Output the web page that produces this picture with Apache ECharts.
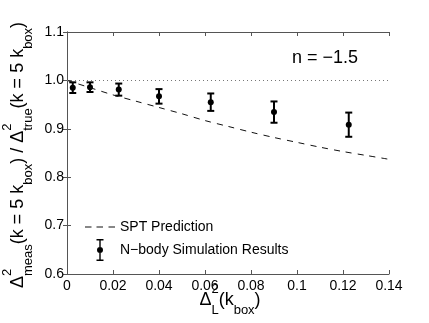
<!DOCTYPE html>
<html>
<head>
<meta charset="utf-8">
<script src="https://cdn.jsdelivr.net/npm/echarts@6/dist/echarts.min.js"></script>
<style>
html,body{margin:0;padding:0;background:#fff;}
#chart{width:429px;height:323px;}
</style>
</head>
<body>
<div id="chart"></div>
<script>
// ---- data ----
const sptX = [0, 0.01, 0.02, 0.03, 0.04, 0.05, 0.06, 0.07, 0.08, 0.09, 0.10, 0.11, 0.12, 0.13, 0.14];
const sptY = [1.000, 0.985, 0.970, 0.957, 0.944, 0.931, 0.917, 0.905, 0.893, 0.882, 0.872, 0.862, 0.853, 0.845, 0.837];
const simX = [0.0025, 0.01, 0.0225, 0.04, 0.0625, 0.09, 0.1225];
const simY = [0.985, 0.986, 0.981, 0.967, 0.955, 0.9345, 0.9085];
const simErr = [0.011, 0.010, 0.0125, 0.015, 0.018, 0.022, 0.025];
const referenceLevel = 1.0;
const seriesNames = ['SPT Prediction', 'N\u2212body Simulation Results'];
const annotation = 'n = \u22121.5';
const xRange = [0, 0.14, 0.02];
const yRange = [0.6, 1.1, 0.1];

// ---- layout helpers ----
const FONT = 'Liberation Sans, Arial, Helvetica, sans-serif';
const cv = document.createElement('canvas').getContext('2d');
function tw(t, s) { cv.font = s + 'px ' + FONT; return cv.measureText(t).width; }
const MAIN = 18, SMALL = 13, SUP = -11, SUB = 10;
function layout(tokens) {
  let pen = 0, children = [], pendingW = 0;
  tokens.forEach(tok => {
    const size = tok.k === 'm' ? MAIN : SMALL;
    const dy = tok.k === 'sup' ? SUP : tok.k === 'sub' ? SUB : 0;
    const w = tw(tok.t, size);
    children.push({type: 'text', x: pen, y: dy, style: {text: tok.t, fontSize: size, fontFamily: FONT, fill: '#000', align: 'left', verticalAlign: 'middle'}});
    if (tok.stack) { pendingW = Math.max(pendingW, w); }
    else { pen += Math.max(w, pendingW); pendingW = 0; }
  });
  return {children, width: pen};
}
const xTitle = layout([
  {t: '\u0394', k: 'm'}, {t: '2', k: 'sup', stack: true}, {t: 'L', k: 'sub'},
  {t: '(k', k: 'm'}, {t: 'box', k: 'sub'}, {t: ')', k: 'm'}
]);
const yTitle = layout([
  {t: '\u0394', k: 'm'}, {t: '2', k: 'sup', stack: true}, {t: 'meas', k: 'sub'},
  {t: '(k = 5 k', k: 'm'}, {t: 'box', k: 'sub'}, {t: ') / \u0394', k: 'm'},
  {t: '2', k: 'sup', stack: true}, {t: 'true', k: 'sub'},
  {t: '(k = 5 k', k: 'm'}, {t: 'box', k: 'sub'}, {t: ')', k: 'm'}
]);

const AX = '#555';
const chart = echarts.init(document.getElementById('chart'), null, {renderer: 'canvas'});
const axisCommon = {
  type: 'value', splitLine: {show: false},
  axisLine: {show: true, lineStyle: {color: AX, width: 1}},
  axisTick: {show: true, inside: true, length: 4, lineStyle: {color: AX, width: 1}}
};
const option = {
  animation: false,
  backgroundColor: '#fff',
  textStyle: {fontFamily: FONT},
  grid: {left: 67, right: 40, top: 32, bottom: 49, outerBoundsMode: 'none', containLabel: false},
  title: {text: annotation, left: 292, top: 49, padding: 0, textStyle: {fontSize: 18, fontWeight: 'normal', color: '#000', fontFamily: FONT}},
  legend: {
    orient: 'vertical', left: 85, top: 220, padding: 0, itemWidth: 30, itemHeight: 22, itemGap: 5,
    textStyle: {fontSize: 14, color: '#000', fontFamily: FONT},
    data: [
      {name: seriesNames[0], icon: 'path://M0,0 H6.5 V1 H0 Z M11.5,0 H18 V1 H11.5 Z M23.5,0 H30 V1 H23.5 Z'},
      {name: seriesNames[1], icon: 'path://M4.3,0 H5.7 V22 H4.3 Z M1.5,0 H8.5 V1.5 H1.5 Z M1.5,20.5 H8.5 V22 H1.5 Z M2,11 A3,3 0 1,1 8,11 A3,3 0 1,1 2,11 Z'}
    ]
  },
  xAxis: [
    Object.assign({}, axisCommon, {position: 'bottom', min: xRange[0], max: xRange[1], interval: xRange[2],
      axisLabel: {show: true, color: '#000', fontSize: 14, margin: 5, fontFamily: FONT}}),
    Object.assign({}, axisCommon, {position: 'top', min: xRange[0], max: xRange[1], interval: xRange[2], axisLabel: {show: false}})
  ],
  yAxis: [
    Object.assign({}, axisCommon, {position: 'left', min: yRange[0], max: yRange[1], interval: yRange[2],
      axisLabel: {show: true, color: '#000', fontSize: 14, margin: 3, fontFamily: FONT, formatter: v => v.toFixed(1)}}),
    Object.assign({}, axisCommon, {position: 'right', min: yRange[0], max: yRange[1], interval: yRange[2], axisLabel: {show: false}})
  ],
  series: [
    {
      name: seriesNames[0], type: 'line', symbol: 'none', smooth: 0.3,
      data: sptX.map((x, i) => [x, sptY[i]]),
      lineStyle: {color: '#111', width: 1, type: [6, 6]},
      itemStyle: {color: '#111'},
      markLine: {
        silent: true, symbol: ['none', 'none'], label: {show: false},
        lineStyle: {color: '#777', width: 1, type: [1, 3]},
        data: [{yAxis: referenceLevel}]
      }
    },
    {
      name: seriesNames[1], type: 'custom',
      itemStyle: {color: '#000'},
      data: simX.map((x, i) => [x, simY[i], simErr[i]]),
      renderItem: function (params, api) {
        const x = api.value(0), y = api.value(1), e = api.value(2);
        const t = api.coord([x, y + e]), b = api.coord([x, y - e]), c = api.coord([x, y]);
        const cw = 3.5;
        const st = {stroke: '#000', lineWidth: 2};
        return {type: 'group', children: [
          {type: 'line', shape: {x1: t[0], y1: t[1], x2: b[0], y2: b[1]}, style: st},
          {type: 'line', shape: {x1: t[0] - cw, y1: t[1], x2: t[0] + cw, y2: t[1]}, style: st},
          {type: 'line', shape: {x1: b[0] - cw, y1: b[1], x2: b[0] + cw, y2: b[1]}, style: st},
          {type: 'circle', shape: {cx: c[0], cy: c[1], r: 3}, style: {fill: '#000'}}
        ]};
      }
    }
  ],
  graphic: [
    {type: 'group', x: 230 - xTitle.width / 2, y: 300, children: xTitle.children},
    {type: 'group', x: 18, y: 155 + yTitle.width / 2, rotation: Math.PI / 2, children: yTitle.children}
  ]
};
chart.setOption(option);
</script>
</body>
</html>
